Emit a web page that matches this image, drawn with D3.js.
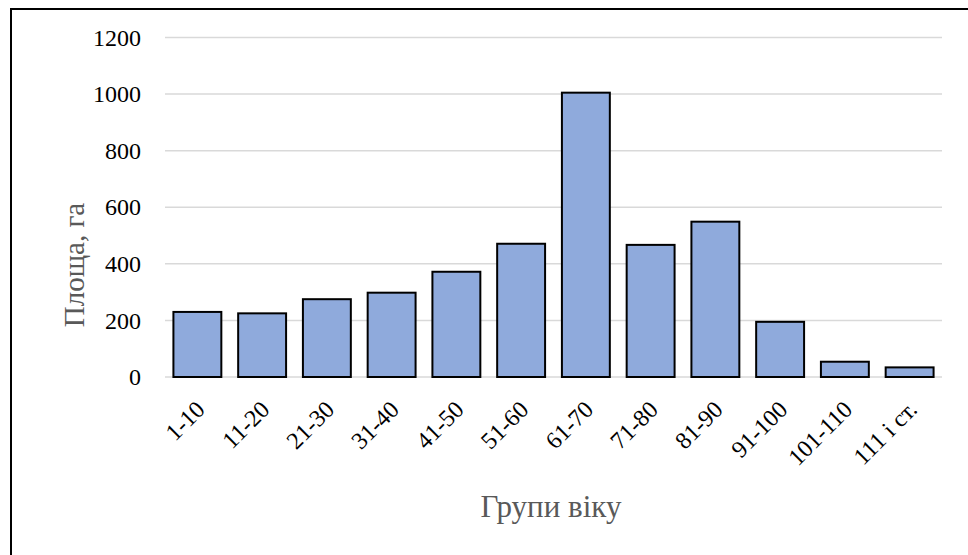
<!DOCTYPE html>
<html>
<head>
<meta charset="utf-8">
<script src="https://cdn.jsdelivr.net/npm/d3@7"></script>
<style>
  body { margin: 0; background: #fff; }
  svg { display: block; font-family: "Liberation Serif", "Times New Roman", serif; }
</style>
</head>
<body>
<div id="chart"></div>
<script>
// age groups and area (ha)
var groups = ["1-10", "11-20", "21-30", "31-40", "41-50", "51-60", "61-70", "71-80", "81-90", "91-100", "101-110", "111 і ст."];
var area = [230, 225, 275, 298, 372, 471, 1005, 467, 549, 195, 54, 34];
var yTicks = [0, 200, 400, 600, 800, 1000, 1200];

var W = 968, H = 555;
var margin = {top: 37.5, right: 26, bottom: 178, left: 165};
var width = W - margin.left - margin.right,
    height = H - margin.top - margin.bottom;

var svg = d3.select("#chart")
  .append("svg")
    .attr("width", W)
    .attr("height", H);

// chart frame
svg.append("rect")
  .attr("x", 11).attr("y", 9)
  .attr("width", W).attr("height", H)
  .style("fill", "none")
  .style("stroke", "#000")
  .style("stroke-width", 2);

var g = svg.append("g")
  .attr("transform", "translate(" + margin.left + "," + margin.top + ")");

var x = d3.scaleBand()
  .domain(groups)
  .range([0, width])
  .paddingInner(0.26)
  .paddingOuter(0.13);

var y = d3.scaleLinear()
  .domain([0, 1200])
  .range([height, 0]);

// gridlines
g.selectAll(".grid")
  .data(yTicks)
  .enter()
  .append("line")
    .attr("x1", 0).attr("x2", width)
    .attr("y1", function(d){ return y(d); })
    .attr("y2", function(d){ return y(d); })
    .style("stroke", "#d9d9d9")
    .style("stroke-width", 1.5);

// y axis labels
var yAxis = g.append("g")
  .call(d3.axisLeft(y).tickValues(yTicks).tickFormat(d3.format("d")).tickSize(0).tickPadding(24));
yAxis.attr("font-family", null).attr("font-size", null);
yAxis.select(".domain").remove();
yAxis.selectAll("text")
  .style("font-size", "24px")
  .style("fill", "#000");

// bars
g.selectAll(".bar")
  .data(area)
  .enter()
  .append("rect")
    .attr("x", function(d, i){ return x(groups[i]); })
    .attr("y", function(d){ return y(d); })
    .attr("width", x.bandwidth())
    .attr("height", function(d){ return height - y(d); })
    .style("fill", "#8faadc")
    .style("stroke", "#000")
    .style("stroke-width", 2);

// x axis labels
var xAxis = g.append("g")
  .attr("transform", "translate(0," + height + ")")
  .call(d3.axisBottom(x).tickSize(0).tickPadding(0));
xAxis.attr("font-family", null).attr("font-size", null);
xAxis.select(".domain").remove();
xAxis.selectAll("text")
  .attr("text-anchor", "end")
  .attr("dy", "0.35em")
  .attr("transform", "translate(3,28) rotate(-45)")
  .style("font-size", "24px")
  .style("fill", "#000");

// axis titles
svg.append("text")
  .attr("transform", "translate(84,265) rotate(-90)")
  .attr("text-anchor", "middle")
  .text("Площа, га")
  .style("font-size", "29px")
  .style("fill", "#595959");

svg.append("text")
  .attr("x", 551)
  .attr("y", 517)
  .attr("text-anchor", "middle")
  .text("Групи віку")
  .style("font-size", "31px")
  .style("fill", "#595959");
</script>
</body>
</html>
